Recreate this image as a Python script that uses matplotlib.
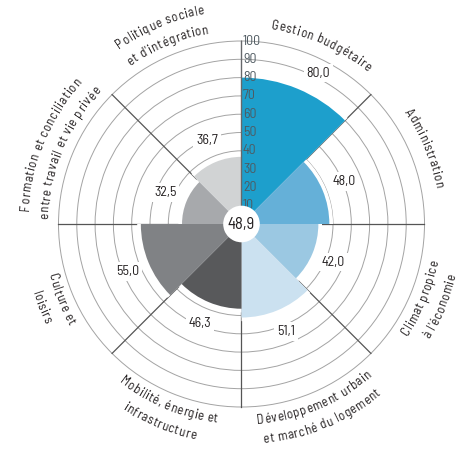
import numpy as np
import matplotlib
matplotlib.use('Agg')
import matplotlib.pyplot as plt
from matplotlib import font_manager
from matplotlib.font_manager import FontProperties
from matplotlib.transforms import offset_copy

# data
categories = [
    ["Gestion budgétaire"],
    ["Administration"],
    ["Climat propice", "à l'économie"],
    ["Développement urbain", "et marché du logement"],
    ["Mobilité, énergie et", "infrastructure"],
    ["Culture et", "loisirs"],
    ["Formation et conciliation", "entre travail et vie privée"],
    ["Politique sociale", "et d'intégration"],
]
values = [80.0, 48.0, 42.0, 51.1, 46.3, 55.0, 32.5, 36.7]
value_labels = ["80,0", "48,0", "42,0", "51,1", "46,3", "55,0", "32,5", "36,7"]
total_label = "48,9"
rticks = [10, 20, 30, 40, 50, 60, 70, 80, 90, 100]
colors = ['#1d9fcc', '#65b0d8', '#9bc8e2', '#cbe1f0',
          '#58595b', '#808285', '#a7a9ac', '#d1d3d4']

names = {f.name for f in font_manager.fontManager.ttflist}
family = 'DejaVu Sans'
for cand in ['Barlow Semi Condensed', 'Roboto Condensed', 'Liberation Sans Narrow']:
    if cand in names:
        family = cand
        break
plt.rcParams['font.family'] = [family, 'DejaVu Sans']

fig = plt.figure(figsize=(4.66, 4.54), dpi=100)
ax = fig.add_axes([0.02736, 0.00275, 0.98176, 1.00771], projection='polar')
ax.set_theta_zero_location('N')
ax.set_theta_direction(-1)
ax.set_ylim(0, 125)
ax.spines['polar'].set_visible(False)
ax.set_xticks([])
ax.set_yticks(rticks)
ax.set_yticklabels([])
ax.yaxis.grid(True, color='#a3a3a3', lw=0.7)
ax.xaxis.grid(False)
ax.set_axisbelow(True)

n = len(values)
width = 2 * np.pi / n
theta = np.arange(n) * width + width / 2

# radial separators
for k in range(1, n):
    ax.plot([k * width, k * width], [0, 100], color='#555555', lw=0.9, zorder=1)

# white halo then bars
ax.bar(theta, np.array(values) + 2.0, width=width, color='white', zorder=1.5)
ax.bar(theta, values, width=width, color=colors, zorder=2)

# top axis with ticks
ax.plot([0, 0], [0, 100], color='#66686b', lw=1.0, zorder=2.5)
tick_tr = offset_copy(ax.transData, fig=fig, x=1.5, y=0, units='dots')
for r in rticks:
    ax.text(0, r, str(r), transform=tick_tr, ha='left', va='center',
            fontsize=10, color='#4f5a61', zorder=3)

# center circle
ax.bar(0, 10, width=2 * np.pi, color='white', zorder=4)
ax.text(0, 0, total_label, ha='center', va='center', fontsize=12,
        color='#231f20', zorder=5)

# value labels
for i, (v, lab) in enumerate(zip(values, value_labels)):
    ang = theta[i]
    if i == 0:
        ang = np.radians(27)
    ax.text(ang, v + 12.5, lab, ha='center', va='center', fontsize=10,
            color='#231f20', zorder=3,
            bbox=dict(boxstyle='square,pad=0.2', fc='white', ec='none'))

# curved category labels
renderer = fig.canvas.get_renderer()
fp = FontProperties(family=[family, 'DejaVu Sans'], size=9.5)
p0 = ax.transData.transform((0, 0))
p1 = ax.transData.transform((0, 100))
ppu = np.hypot(*(p1 - p0)) / 100.0
tracking = 0.6  # extra px between letters


def advance(c):
    w2 = renderer.get_text_width_height_descent('nn', fp, ismath=False)[0]
    w3 = renderer.get_text_width_height_descent('n' + c + 'n', fp, ismath=False)[0]
    return w3 - w2 + tracking


def curved(text, phi, r, clockwise):
    adv = [advance(c) for c in text]
    rb = r - 2.4 if clockwise else r + 2.4
    rpx = rb * ppu
    pos = -sum(adv) / 2
    for c, a in zip(text, adv):
        mid = pos + a / 2
        pos += a
        d = np.degrees(mid / rpx)
        if clockwise:
            ph = phi + d
            rot = -ph
        else:
            ph = phi - d
            rot = 180 - ph
        ax.text(np.radians(ph), rb, c, rotation=rot, rotation_mode='anchor',
                ha='center', va='baseline', fontproperties=fp,
                color='#231f20', zorder=3)


for i, lines in enumerate(categories):
    phi = np.degrees(theta[i])
    clockwise = phi < 90 or phi > 270
    if i == 0:
        phi += 1.5
    if len(lines) == 1:
        curved(lines[0], phi, 110, clockwise)
    else:
        if clockwise:
            curved(lines[0], phi, 119, clockwise)
            curved(lines[1], phi, 108, clockwise)
        else:
            curved(lines[0], phi, 107, clockwise)
            curved(lines[1], phi, 118, clockwise)

fig.savefig('out.png', dpi=100)
